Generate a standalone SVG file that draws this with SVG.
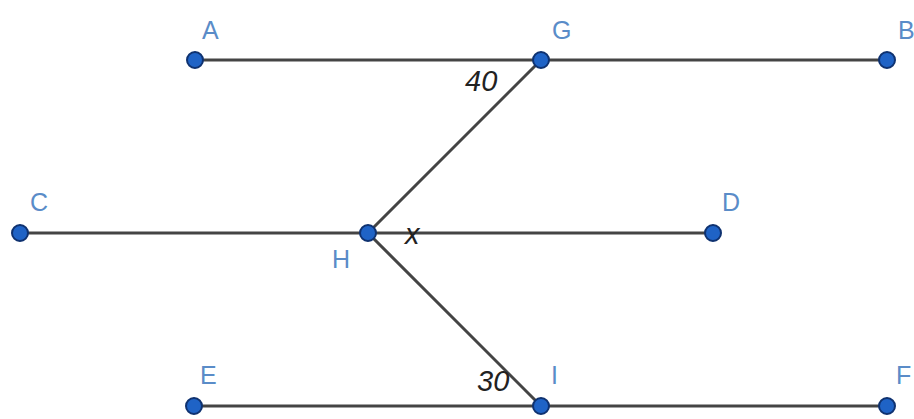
<svg xmlns="http://www.w3.org/2000/svg" width="914" height="419" viewBox="0 0 914 419">
<style>
.ln{stroke:#444;stroke-width:3;stroke-linecap:round;fill:none}
.pt{fill:#1f63c6;stroke:#0f3270;stroke-width:2}
.lb{font-family:"Liberation Sans",Arial,sans-serif;font-size:25px;fill:#5a8cc8}
.an{font-family:"Liberation Sans",Arial,sans-serif;font-size:29px;font-style:italic;fill:#222}
</style>
<rect width="914" height="419" fill="#fff"/>
<g id="connectors">
<line class="ln" x1="195" y1="60" x2="887" y2="60"/>
<line class="ln" x1="20" y1="233" x2="713" y2="233"/>
<line class="ln" x1="194" y1="406" x2="887" y2="406"/>
<line class="ln" x1="541" y1="60" x2="368" y2="233"/>
<line class="ln" x1="368" y1="233" x2="541" y2="406"/>
</g>
<g id="A"><circle class="pt" cx="195" cy="60" r="8"/><text class="lb" x="202" y="39">A</text></g>
<g id="G"><circle class="pt" cx="541" cy="60" r="8"/><text class="lb" x="552" y="39">G</text></g>
<g id="B"><circle class="pt" cx="887" cy="60" r="8"/><text class="lb" x="898" y="39">B</text></g>
<g id="C"><circle class="pt" cx="20" cy="233" r="8"/><text class="lb" x="30" y="211">C</text></g>
<g id="H"><circle class="pt" cx="368" cy="233" r="8"/><text class="lb" x="332" y="268">H</text></g>
<g id="D"><circle class="pt" cx="713" cy="233" r="8"/><text class="lb" x="722" y="211">D</text></g>
<g id="E"><circle class="pt" cx="194" cy="406" r="8"/><text class="lb" x="200" y="384">E</text></g>
<g id="I"><circle class="pt" cx="541" cy="406" r="8"/><text class="lb" x="551" y="384">I</text></g>
<g id="F"><circle class="pt" cx="887" cy="406" r="8"/><text class="lb" x="896" y="384">F</text></g>
<g id="angles">
<text class="an" x="465" y="91">40</text>
<text class="an" x="477" y="391">30</text>
<text class="an" x="405" y="244">x</text>
</g>
</svg>
